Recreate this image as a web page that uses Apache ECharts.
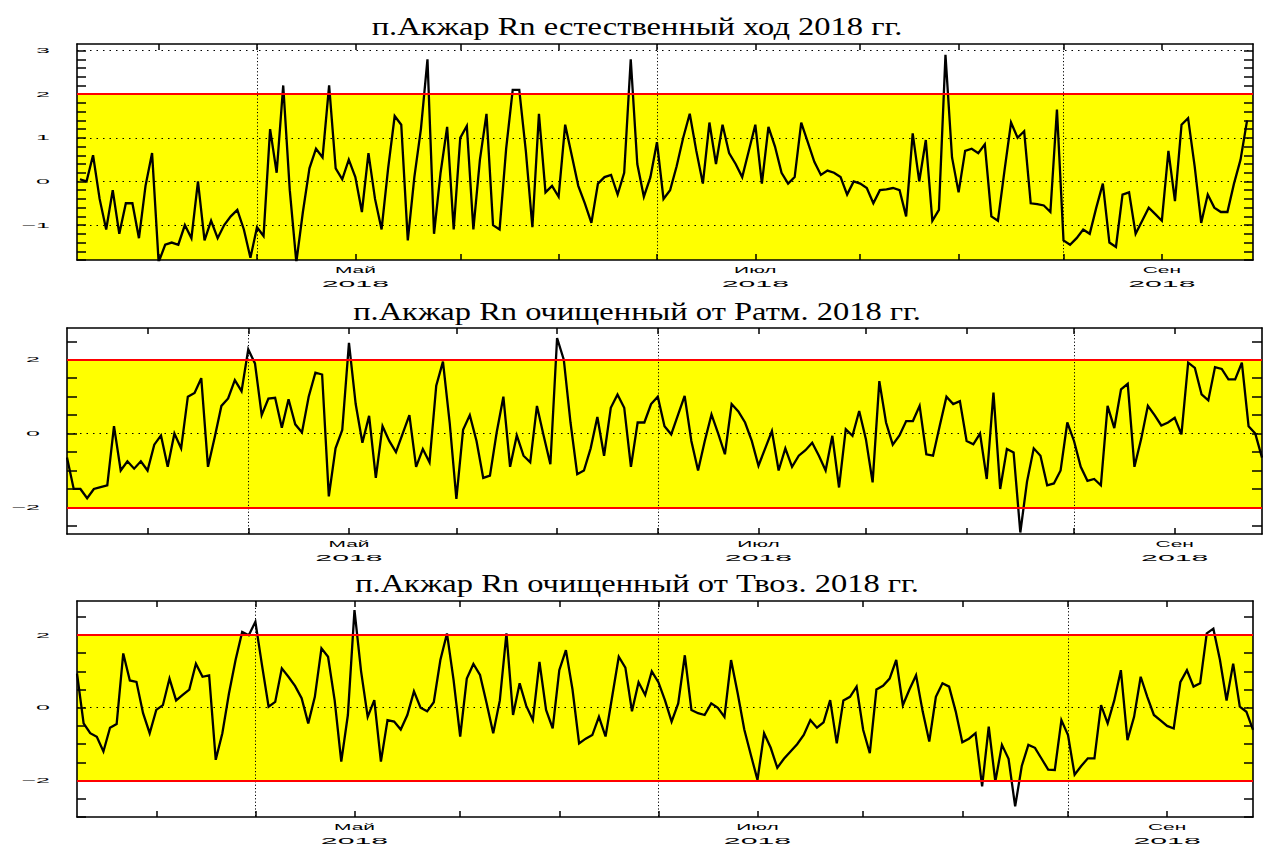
<!DOCTYPE html>
<html lang="ru">
<head>
<meta charset="utf-8">
<title>п.Акжар Rn 2018</title>
<script src="https://cdn.jsdelivr.net/npm/echarts@6/dist/echarts.min.js"></script>
<style>
  html, body { margin: 0; padding: 0; background: #fff; }
  #chart { width: 1264px; height: 848px; }
</style>
</head>
<body>
<div id="chart"></div>
<script>
// Daily normalised radon values, one sample per day starting at startDate
const startDate = '2018-03-20';

const panelTitles = [
  'п.Акжар Rn естественный ход 2018 гг.',
  'п.Акжар Rn очищенный от Ратм. 2018 гг.',
  'п.Акжар Rn очищенный от Твоз. 2018 гг.'
];

// Rn, natural course
const rnNatural = [
  0.05, 0.0, 0.6, -0.4, -1.1, -0.2, -1.2, -0.5, -0.5, -1.3,
  -0.1, 0.65, -1.85, -1.45, -1.4, -1.45, -1.0, -1.3, 0.0, -1.35,
  -0.9, -1.3, -1.0, -0.8, -0.65, -1.1, -1.75, -1.05, -1.25, 1.2,
  0.2, 2.2, -0.2, -1.85, -0.7, 0.3, 0.75, 0.55, 2.2, 0.3,
  0.05, 0.5, 0.1, -0.7, 0.65, -0.4, -1.1, 0.3, 1.5, 1.3,
  -1.35, 0.1, 1.2, 2.8, -1.2, 0.2, 1.25, -1.1, 1.0, 1.27,
  -1.1, 0.5, 1.55, -1.0, -1.1, 0.75, 2.1, 2.1, 0.7, -1.05,
  1.55, -0.25, -0.1, -0.35, 1.3, 0.6, -0.1, -0.5, -0.95, -0.05,
  0.1, 0.15, -0.3, 0.2, 2.8, 0.4, -0.35, 0.1, 0.9, -0.4,
  -0.2, 0.35, 1.0, 1.55, 0.7, -0.05, 1.35, 0.4, 1.3, 0.65,
  0.4, 0.1, 0.7, 1.3, -0.05, 1.25, 0.8, 0.2, -0.05, 0.1,
  1.35, 0.9, 0.45, 0.15, 0.25, 0.2, 0.1, -0.3, 0.0, -0.05,
  -0.15, -0.5, -0.2, -0.18, -0.15, -0.2, -0.8, 1.1, 0.0, 0.95,
  -0.9, -0.65, 2.9, 0.55, -0.25, 0.7, 0.75, 0.65, 0.85, -0.8,
  -0.9, 0.25, 1.35, 1.0, 1.15, -0.5, -0.52, -0.55, -0.7, 1.65,
  -1.35, -1.45, -1.3, -1.1, -1.2, -0.6, -0.05, -1.4, -1.5, -0.3,
  -0.25, -1.2, -0.9, -0.6, -0.75, -0.9, 0.7, -0.45, 1.3, 1.45,
  0.35, -0.95, -0.3, -0.6, -0.7, -0.7, -0.05, 0.5, 1.4
];

// Rn cleaned of atmospheric pressure
const rnCleanPressure = [
  -0.65, -1.5, -1.5, -1.75, -1.5, -1.45, -1.4, 0.2, -1.0, -0.75,
  -0.95, -0.75, -1.0, -0.3, -0.05, -0.9, 0.0, -0.4, 1.0, 1.1,
  1.5, -0.9, -0.1, 0.75, 0.95, 1.45, 1.15, 2.28, 1.9, 0.5,
  0.95, 0.97, 0.16, 0.93, 0.25, 0.03, 1.0, 1.65, 1.6, -1.7,
  -0.4, 0.1, 2.46, 0.8, -0.25, 0.48, -1.2, 0.2, -0.2, -0.5,
  0.0, 0.5, -0.9, -0.42, -0.78, 1.3, 1.95, 0.3, -1.77, 0.1,
  0.5, -0.2, -1.2, -1.14, 0.03, 1.0, -0.9, -0.05, -0.6, -0.78,
  0.75, -0.06, -0.83, 2.59, 2.0, 0.3, -1.1, -1.0, -0.4, 0.45,
  -0.6, 0.7, 1.06, 0.7, -0.9, 0.3, 0.3, 0.8, 1.0, 0.2,
  -0.02, 0.5, 1.02, -0.2, -1.0, -0.2, 0.52, 0.0, -0.56, 0.8,
  0.6, 0.3, -0.2, -0.87, -0.4, 0.07, -1.0, -0.4, -0.9, -0.6,
  -0.45, -0.25, -0.6, -1.0, -0.06, -1.46, 0.12, -0.06, 0.61, -0.15,
  -1.32, 1.42, 0.3, -0.3, -0.05, 0.34, 0.34, 0.75, -0.56, -0.6,
  0.21, 1.0, 0.8, 0.88, -0.2, -0.29, 0.0, -1.23, 1.11, -1.5,
  -0.42, -0.51, -2.68, -1.3, -0.4, -0.6, -1.4, -1.35, -1.0, 0.3,
  -0.2, -0.9, -1.28, -1.23, -1.4, 0.75, 0.15, 1.2, 1.35, -0.9,
  -0.15, 0.75, 0.5, 0.22, 0.3, 0.43, -0.02, 1.92, 1.78, 1.06,
  0.9, 1.8, 1.75, 1.47, 1.47, 1.92, 0.2, 0.0, -0.65
];

// Rn cleaned of air temperature
const rnCleanAirTemp = [
  0.94, -0.43, -0.7, -0.8, -1.2, -0.55, -0.45, 1.49, 0.75, 0.71,
  -0.15, -0.7, -0.06, 0.07, 0.8, 0.2, 0.35, 0.5, 1.21, 0.85,
  0.89, -1.43, -0.7, 0.39, 1.31, 2.08, 1.99, 2.36, 1.17, 0.03,
  0.16, 1.08, 0.85, 0.6, 0.26, -0.43, 0.3, 1.63, 1.4, 0.2,
  -1.48, -0.2, 2.68, 1.0, -0.25, 0.21, -1.48, -0.34, -0.38, -0.6,
  -0.2, 0.45, 0.0, -0.1, 0.15, 1.31, 2.04, 0.76, -0.79, 0.8,
  1.2, 0.9, 0.12, -0.7, 0.2, 2.04, -0.2, 0.67, 0.05, -0.34,
  1.26, -0.06, -0.57, 1.03, 1.58, 0.5, -0.98, -0.85, -0.75, -0.25,
  -0.79, 0.3, 1.4, 1.1, -0.1, 0.7, 0.35, 1.0, 0.7, 0.2,
  -0.38, 0.12, 1.44, -0.06, -0.15, -0.2, 0.12, 0.0, -0.25, 1.31,
  0.4, -0.6, -1.3, -1.98, -0.7, -1.1, -1.65, -1.4, -1.2, -1.0,
  -0.75, -0.34, -0.55, -0.4, 0.21, -0.98, 0.2, 0.3, 0.58, -0.61,
  -1.25, 0.5, 0.6, 0.8, 1.31, 0.07, 0.5, 0.89, -0.1, -0.93,
  0.3, 0.67, 0.58, -0.1, -0.95, -0.85, -0.7, -2.16, -0.52, -2.03,
  -1.02, -1.4, -2.71, -1.6, -1.02, -1.1, -1.4, -1.7, -1.71, -0.34,
  -0.75, -1.84, -1.6, -1.39, -1.39, 0.07, -0.43, 0.2, 1.03, -0.89,
  -0.25, 0.85, 0.3, -0.2, -0.35, -0.5, -0.57, 0.7, 1.03, 0.58,
  0.67, 2.04, 2.17, 1.31, 0.2, 1.21, 0.03, -0.11, -0.61
];

// x-axis ticks: month starts and mid-months
const tickDates = ['2018-04-01', '2018-04-16', '2018-05-01', '2018-05-17', '2018-06-01',
  '2018-06-16', '2018-07-01', '2018-07-17', '2018-08-01', '2018-08-17', '2018-09-01'];
const gridDates = ['2018-04-16', '2018-06-16', '2018-08-17'];
const monthLabelDates = ['2018-05-01', '2018-07-01', '2018-09-01'];
const monthLabels = ['Май', 'Июл', 'Сен'];
const yearLabel = '2018';

// y-axis labelled values per panel
const yLabelsNatural = [-1, 0, 1, 2, 3];
const yLabelsPressure = [-2, 0, 2];
const yLabelsAirTemp = [-2, 0, 2];

// anomaly band limits
const limitLow = -2;
const limitHigh = 2;

const DAY = 86400000;
const dayOf = s => (Date.parse(s) - Date.parse(startDate)) / DAY;

const panels = [
  { title: panelTitles[0], values: rnNatural, yLabels: yLabelsNatural, yRange: [-1.8, 3.15], minorStep: 0.2,
    xSpan: [-0.45, 178.9], box: { left: 77, top: 44, right: 11, height: 216 }, titleGap: 18, tickLen: 9 },
  { title: panelTitles[1], values: rnCleanPressure, yLabels: yLabelsPressure, yRange: [-2.72, 2.86], minorStep: 0.5,
    xSpan: [0, 178], box: { left: 67, top: 328, right: 2, height: 206 }, titleGap: 17, tickLen: 10 },
  { title: panelTitles[2], values: rnCleanAirTemp, yLabels: yLabelsAirTemp, yRange: [-3, 2.93], minorStep: 0.5,
    xSpan: [0, 178], box: { left: 77, top: 601, right: 11, height: 216 }, titleGap: 18, tickLen: 9 }
];

function stepValues(lo, hi, step) {
  const out = [];
  for (let k = Math.ceil(lo / step - 1e-9); k * step <= hi + 1e-9; k++) out.push(+(k * step).toFixed(6));
  return out;
}

const frameLine = { show: true, onZero: false, lineStyle: { color: '#000', width: 1.6 } };
const grid = [], xAxis = [], yAxis = [], series = [];

panels.forEach((p, i) => {
  grid.push(Object.assign({ outerBoundsMode: 'none', containLabel: false, show: false }, p.box));

  const xTicks = tickDates.map(dayOf);
  const xBase = { type: 'value', gridIndex: i, min: p.xSpan[0], max: p.xSpan[1],
    axisLabel: { show: false }, splitLine: { show: false }, z: 3 };
  const xTick = { show: true, inside: true, length: 6, customValues: xTicks,
    lineStyle: { color: '#000', width: 1.5 } };
  xAxis.push(Object.assign({}, xBase, { position: 'bottom', axisLine: frameLine, axisTick: xTick }));
  xAxis.push(Object.assign({}, xBase, { position: 'top', axisLine: frameLine, axisTick: xTick }));
  xAxis.push(Object.assign({}, xBase, { position: 'bottom', z: 1.5,
    axisLine: { show: false, onZero: false },
    axisTick: { show: false, customValues: gridDates.map(dayOf) },
    splitLine: { show: true, lineStyle: { color: '#000', width: 1, type: [1.2, 2.2] } } }));

  const yBase = { type: 'value', gridIndex: i, min: p.yRange[0], max: p.yRange[1],
    axisLabel: { show: false }, splitLine: { show: false }, z: 3 };
  const yTick = { show: true, inside: true, length: p.tickLen,
    customValues: stepValues(p.yRange[0], p.yRange[1], p.minorStep),
    lineStyle: { color: '#000', width: 1.5 } };
  yAxis.push(Object.assign({}, yBase, { position: 'left', axisLine: frameLine, axisTick: yTick }));
  yAxis.push(Object.assign({}, yBase, { position: 'right', axisLine: frameLine, axisTick: yTick }));
  yAxis.push(Object.assign({}, yBase, { position: 'left', z: 1.5, splitNumber: p.yLabels.length,
    axisLine: { show: false, onZero: false },
    axisTick: { show: false, customValues: p.yLabels },
    splitLine: { show: true, lineStyle: { color: '#000', width: 1, type: [1.5, 5] } } }));

  const bandLo = Math.max(limitLow, p.yRange[0]);
  const bandHi = Math.min(limitHigh, p.yRange[1]);
  const limits = [limitLow, limitHigh].filter(v => v >= p.yRange[0] && v <= p.yRange[1]);

  series.push({
    type: 'line',
    xAxisIndex: 3 * i,
    yAxisIndex: 3 * i,
    data: p.values.map((v, k) => [k, v]),
    symbol: 'none',
    showSymbol: false,
    clip: true,
    lineStyle: { color: '#000', width: 2.3, join: 'miter' },
    emphasis: { disabled: true },
    silent: true,
    markArea: {
      silent: true,
      itemStyle: { color: '#ffff00' },
      data: [[{ yAxis: bandLo }, { yAxis: bandHi }]]
    },
    markLine: {
      silent: true,
      symbol: ['none', 'none'],
      label: { show: false },
      lineStyle: { color: '#ff0000', width: 2, type: 'solid' },
      emphasis: { disabled: true },
      data: limits.map(v => ({ yAxis: v }))
    }
  });
});

const chart = echarts.init(document.getElementById('chart'), null, { renderer: 'svg' });
chart.setOption({
  animation: false,
  backgroundColor: '#fff',
  grid, xAxis, yAxis, series
});

// Axis labels and titles, drawn as stretched text anchored on the axis scales
const fmt = v => (v < 0 ? '\u2212' + Math.abs(v) : String(v));
function textEl(x, y, text, font, sx, sy, align) {
  return {
    type: 'text', x, y, scaleX: sx, scaleY: sy, silent: true, z: 10,
    style: { text, font, fill: '#000', align, textAlign: align, verticalAlign: 'middle', textVerticalAlign: 'middle' }
  };
}
const overlay = [];
panels.forEach((p, i) => {
  const xi = 3 * i, yi = 3 * i;
  const left = chart.convertToPixel({ xAxisIndex: xi }, p.xSpan[0]);
  const bottom = chart.convertToPixel({ yAxisIndex: yi }, p.yRange[0]);
  const top = chart.convertToPixel({ yAxisIndex: yi }, p.yRange[1]);

  overlay.push(textEl(637, top - p.titleGap, p.title, '25px "Liberation Serif"', 1.3, 1, 'center'));

  p.yLabels.forEach(v => {
    const y = chart.convertToPixel({ yAxisIndex: yi }, v);
    overlay.push(textEl(left - 27, y, fmt(v), '10px "Liberation Sans"', 2.5, 0.75, 'right'));
  });

  monthLabelDates.forEach((d, k) => {
    const x = chart.convertToPixel({ xAxisIndex: xi }, dayOf(d));
    overlay.push(textEl(x, bottom + 9.5, monthLabels[k], '11px "Liberation Sans"', 1.9, 0.9, 'center'));
    overlay.push(textEl(x, bottom + 23.5, yearLabel, '11px "Liberation Sans"', 2.75, 0.9, 'center'));
  });
});
chart.setOption({ graphic: overlay });
</script>
</body>
</html>
